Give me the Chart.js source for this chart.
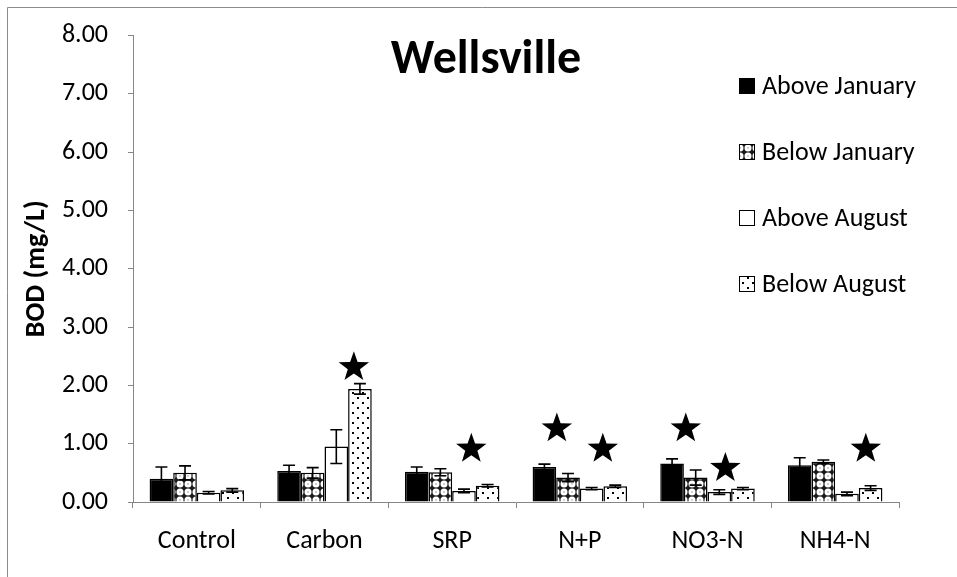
<!DOCTYPE html>
<html>
<head>
<meta charset="utf-8">
<script src="https://cdn.jsdelivr.net/npm/chart.js@4.4.1/dist/chart.umd.min.js"></script>
<style>
  html, body { margin: 0; padding: 0; background: #fff; }
  canvas { display: block; }
</style>
</head>
<body>
<canvas id="c" width="957" height="577"></canvas>
<script>
// BOD by treatment, Wellsville site
const categories = ['Control', 'Carbon', 'SRP', 'N+P', 'NO3-N', 'NH4-N'];
const seriesNames = ['Above January', 'Below January', 'Above August', 'Below August'];

const aboveJanuary = [0.40, 0.53, 0.52, 0.60, 0.66, 0.63];
const belowJanuary = [0.50, 0.50, 0.51, 0.42, 0.42, 0.69];
const aboveAugust  = [0.16, 0.95, 0.19, 0.23, 0.17, 0.14];
const belowAugust  = [0.20, 1.94, 0.28, 0.27, 0.23, 0.24];

// standard errors
const errAboveJanuary = [0.20, 0.10, 0.08, 0.05, 0.08, 0.13];
const errBelowJanuary = [0.12, 0.09, 0.06, 0.07, 0.13, 0.03];
const errAboveAugust  = [0.02, 0.29, 0.03, 0.02, 0.04, 0.03];
const errBelowAugust  = [0.03, 0.09, 0.02, 0.02, 0.02, 0.04];

// significance markers (x in category units, y in mg/L)
const starX = [1.23, 2.15, 2.82, 3.18, 3.83, 4.14, 5.24];
const starY = [2.33, 0.93, 1.28, 0.93, 1.28, 0.60, 0.93];

const yTicks = [0, 1, 2, 3, 4, 5, 6, 7, 8];

const FONT = 'Carlito, Calibri, Lato, sans-serif';

function makeTile(size, paint) {
  const c = document.createElement('canvas');
  c.width = c.height = size;
  paint(c.getContext('2d'), size);
  return c;
}

const canvas = document.getElementById('c');
const ctx = canvas.getContext('2d');

// checker-like fill: white blobs on a dark lattice
const checkTile = makeTile(8, (g, s) => {
  g.fillStyle = '#1a1a1a';
  g.fillRect(0, 0, s, s);
  g.fillStyle = '#fff';
  g.beginPath();
  g.arc(4, 4, 3.5, 0, Math.PI * 2);
  g.fill();
  g.fillStyle = '#555';
  g.fillRect(3.5, 3.5, 1, 1);
});
// sparse dot fill
const dotTile = makeTile(10, (g, s) => {
  g.fillStyle = '#fff';
  g.fillRect(0, 0, s, s);
  g.fillStyle = '#000';
  g.fillRect(2, 2, 2, 2);
  g.fillRect(7, 7, 2, 2);
});
const checkFill = ctx.createPattern(checkTile, 'repeat');
const dotFill = ctx.createPattern(dotTile, 'repeat');

// filled five-point star marker
function drawStar(g, cx, cy, R, r) {
  g.beginPath();
  for (let i = 0; i < 10; i++) {
    const rad = i % 2 === 0 ? R : r;
    const a = -Math.PI / 2 + i * Math.PI / 5;
    const px = cx + rad * Math.cos(a), py = cy + rad * Math.sin(a);
    if (i === 0) g.moveTo(px, py); else g.lineTo(px, py);
  }
  g.closePath();
  g.fill();
}

const fills = ['#000', checkFill, '#fff', dotFill];
const values = [aboveJanuary, belowJanuary, aboveAugust, belowAugust];
const errors = [errAboveJanuary, errBelowJanuary, errAboveAugust, errBelowAugust];

const barSets = seriesNames.map((name, i) => ({
  label: name,
  data: values[i],
  backgroundColor: fills[i],
  borderColor: '#000',
  borderWidth: 1.5
}));

// error whiskers and significance stars, placed through the chart scales
const annotations = {
  id: 'annotations',
  afterDatasetsDraw(chart) {
    const y = chart.scales.y, x = chart.scales.x;
    const g = chart.ctx;
    g.save();
    g.strokeStyle = '#000';
    g.lineWidth = 1.6;
    for (let d = 0; d < values.length; d++) {
      const meta = chart.getDatasetMeta(d);
      meta.data.forEach((bar, i) => {
        const v = values[d][i], e = errors[d][i];
        const yt = y.getPixelForValue(v + e);
        const yb = y.getPixelForValue(Math.max(0, v - e));
        const cap = 6;
        g.beginPath();
        g.moveTo(bar.x, yt); g.lineTo(bar.x, yb);
        g.moveTo(bar.x - cap, yt); g.lineTo(bar.x + cap, yt);
        g.moveTo(bar.x - cap, yb); g.lineTo(bar.x + cap, yb);
        g.stroke();
      });
    }
    g.fillStyle = '#000';
    starX.forEach((sx, i) => {
      drawStar(g, x.getPixelForValue(sx), y.getPixelForValue(starY[i]) + 1, 16, 6.4);
    });
    g.restore();
  }
};

const decorations = {
  id: 'decorations',
  beforeDraw(chart) {
    const g = chart.ctx;
    g.save();
    g.fillStyle = '#fff';
    g.fillRect(0, 0, chart.width, chart.height);
    // outer frame
    g.strokeStyle = '#8c8c8c';
    g.lineWidth = 1;
    g.beginPath();
    g.moveTo(7.5, chart.height + 2);
    g.lineTo(7.5, 7.5);
    g.lineTo(chart.width + 2, 7.5);
    g.stroke();
    g.restore();
  },
  afterDraw(chart) {
    const g = chart.ctx;
    g.save();
    // title
    g.fillStyle = '#000';
    g.font = 'bold 48px ' + FONT;
    g.textAlign = 'center';
    g.textBaseline = 'middle';
    g.fillText('Wellsville', 486, 61);
    // legend
    g.font = '26px ' + FONT;
    g.textAlign = 'left';
    const x0 = 739, size = 16, top = 86, step = 66;
    seriesNames.forEach((name, i) => {
      const cy = top + i * step;
      g.fillStyle = fills[i];
      g.fillRect(x0, cy - size / 2, size, size);
      g.strokeStyle = '#000';
      g.lineWidth = 1;
      g.strokeRect(x0 + 0.5, cy - size / 2 + 0.5, size - 1, size - 1);
      g.fillStyle = '#000';
      g.fillText(name, x0 + 23, cy + 1);
    });
    g.restore();
  }
};

new Chart(ctx, {
  type: 'bar',
  data: { labels: categories, datasets: barSets },
  options: {
    responsive: false,
    animation: false,
    events: [],
    datasets: { bar: { categoryPercentage: 0.74, barPercentage: 1.0 } },
    layout: { padding: { top: 22, right: 58, left: 0, bottom: 0 } },
    plugins: { legend: { display: false }, tooltip: { enabled: false }, title: { display: false } },
    scales: {
      x: {
        offset: true,
        grid: { offset: true, drawOnChartArea: false, color: '#868686', tickLength: 6 },
        border: { color: '#868686', width: 1 },
        ticks: { color: '#000', font: { family: FONT, size: 26 }, padding: 18 },
        afterFit(s) { s.height = 75; }
      },
      y: {
        min: 0,
        max: 8,
        afterBuildTicks(s) { s.ticks = yTicks.map(v => ({ value: v })); },
        grid: { drawOnChartArea: false, color: '#868686', tickLength: 5 },
        border: { color: '#868686', width: 1 },
        ticks: {
          color: '#000',
          font: { family: FONT, size: 26 },
          padding: 20,
          callback: v => Number(v).toFixed(2)
        },
        title: {
          display: true,
          text: 'BOD (mg/L)',
          color: '#000',
          font: { family: FONT, size: 28, weight: 'bold' },
          padding: { top: 20, bottom: 0 }
        },
        afterFit(s) { s.width = 133; }
      }
    }
  },
  plugins: [annotations, decorations]
});
</script>
</body>
</html>
